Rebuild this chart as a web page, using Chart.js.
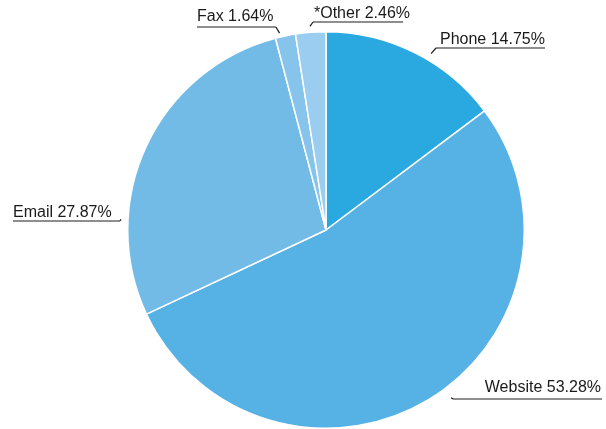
<!DOCTYPE html>
<html>
<head>
<meta charset="utf-8">
<script src="https://cdn.jsdelivr.net/npm/chart.js"></script>
<style>
  html, body { margin: 0; padding: 0; background: #fff; }
  #wrap { position: relative; width: 606px; height: 429px; }
</style>
</head>
<body>
<div id="wrap"><canvas id="pieChart"></canvas></div>
<script>
// Share of contacts by channel (clockwise from 12 o'clock)
const channels = ['Phone', 'Website', 'Email', 'Fax', '*Other'];
const shares = [14.75, 53.28, 27.87, 1.64, 2.46];
const sliceColors = ['#2aa9e1', '#56b2e5', '#72bbe7', '#87c4ec', '#9bcdf0'];

// Where each callout sits: point on the slice (fraction of its sweep + gap
// past the rim), the underline and the text baseline.
const callouts = [
    { frac: 0.58, gap: 7, ux1: 436, ux2: 545, uy: 48, tx: 440, ty: 43.5, align: 'left', end: 'start' },
    { frac: 0.47, gap: 11, ux1: 453, ux2: 602, uy: 399, tx: 601, ty: 392, align: 'right', end: 'start' },
    { frac: 0.28, gap: 7, ux1: 13, ux2: 120, uy: 221, tx: 13, ty: 217, align: 'left', end: 'end' },
    { frac: 0.25, gap: 4, ux1: 197, ux2: 276, uy: 27, tx: 197, ty: 20.5, align: 'left', end: 'end' },
    { frac: 0.49, gap: 6, ux1: 313, ux2: 403, uy: 22, tx: 314, ty: 18.3, align: 'left', end: 'start' }
];

const calloutPlugin = {
    id: 'callouts',
    afterDraw(chart) {
        const ctx = chart.ctx;
        const arcs = chart.getDatasetMeta(0).data;
        ctx.save();
        ctx.strokeStyle = '#1e1e1e';
        ctx.lineWidth = 1.2;
        ctx.fillStyle = '#1a1a1a';
        ctx.font = '16px "Liberation Sans", Arial, sans-serif';
        ctx.textBaseline = 'alphabetic';
        arcs.forEach(function (arc, i) {
            const c = callouts[i];
            const p = arc.getProps(['x', 'y', 'startAngle', 'endAngle', 'outerRadius'], true);
            const a = p.startAngle + c.frac * (p.endAngle - p.startAngle);
            const r = p.outerRadius + c.gap;
            const sx = p.x + Math.cos(a) * r;
            const sy = p.y + Math.sin(a) * r;
            const ex = c.end === 'start' ? c.ux1 : c.ux2;

            ctx.beginPath();
            ctx.moveTo(sx, sy);
            ctx.lineTo(ex, c.uy);
            ctx.stroke();

            ctx.beginPath();
            ctx.moveTo(c.ux1, c.uy);
            ctx.lineTo(c.ux2, c.uy);
            ctx.stroke();

            ctx.textAlign = c.align;
            ctx.fillText(channels[i] + ' ' + shares[i].toFixed(2) + '%', c.tx, c.ty);
        });
        ctx.restore();
    }
};

new Chart(document.getElementById('pieChart').getContext('2d'), {
    type: 'pie',
    data: {
        labels: channels,
        datasets: [{
            data: shares,
            backgroundColor: sliceColors,
            borderColor: '#ffffff',
            borderWidth: 1.5
        }]
    },
    options: {
        responsive: true,
        maintainAspectRatio: false,
        animation: false,
        layout: { padding: { top: 31, bottom: 0, left: 127, right: 81 } },
        plugins: {
            legend: { display: false },
            tooltip: { enabled: false }
        }
    },
    plugins: [calloutPlugin]
});
</script>
</body>
</html>
